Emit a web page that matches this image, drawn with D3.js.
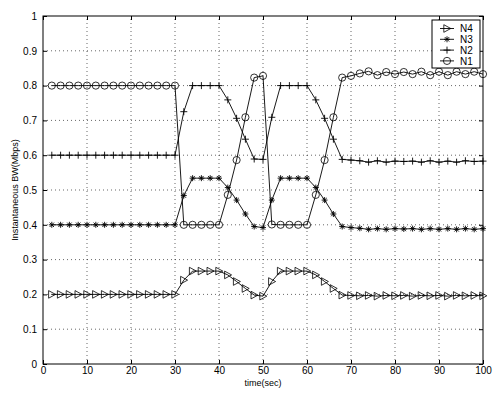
<!DOCTYPE html>
<html>
<head>
<meta charset="utf-8">
<script src="https://cdn.jsdelivr.net/npm/d3@7"></script>
<style>
  body { margin: 0; background: #fff; }
  text { font-family: "Liberation Sans", Arial, sans-serif; fill: #000; }
</style>
</head>
<body>
<div class="canva"></div>
<script>
// time axis (sec)
const time = [2,4,6,8,10,12,14,16,18,20,22,24,26,28,30,32,34,36,38,40,42,44,46,48,50,
              52,54,56,58,60,62,64,66,68,70,72,74,76,78,80,82,84,86,88,90,92,94,96,98,100];

// instantaneous bandwidth per node (Mbps)
const n1 = [0.8,0.8,0.8,0.8,0.8,0.8,0.8,0.8,0.8,0.8,0.8,0.8,0.8,0.8,0.8,
            0.4,0.4,0.4,0.4,0.4,0.486,0.586,0.709,0.823,0.828,
            0.401,0.4,0.4,0.4,0.4,0.486,0.586,0.709,0.823,0.828,
            0.835,0.841,0.830,0.839,0.833,0.839,0.833,0.840,0.830,0.840,0.830,0.840,0.833,0.840,0.833];
const n2 = [0.6,0.6,0.6,0.6,0.6,0.6,0.6,0.6,0.6,0.6,0.6,0.6,0.6,0.6,0.6,
            0.725,0.8,0.8,0.8,0.8,0.759,0.706,0.646,0.589,0.588,
            0.709,0.8,0.8,0.8,0.8,0.759,0.706,0.646,0.588,0.586,
            0.584,0.580,0.584,0.580,0.583,0.582,0.583,0.580,0.584,0.580,0.583,0.580,0.584,0.582,0.583];
const n3 = [0.4,0.4,0.4,0.4,0.4,0.4,0.4,0.4,0.4,0.4,0.4,0.4,0.4,0.4,0.4,
            0.484,0.534,0.534,0.534,0.534,0.507,0.471,0.431,0.395,0.392,
            0.471,0.534,0.534,0.534,0.534,0.507,0.471,0.431,0.395,0.392,
            0.390,0.387,0.389,0.387,0.389,0.388,0.389,0.387,0.389,0.387,0.389,0.387,0.389,0.387,0.389];
const n4 = [0.2,0.2,0.2,0.2,0.2,0.2,0.2,0.2,0.2,0.2,0.2,0.2,0.2,0.2,0.2,
            0.241,0.267,0.267,0.267,0.267,0.256,0.237,0.217,0.198,0.195,
            0.237,0.267,0.267,0.267,0.267,0.256,0.237,0.217,0.198,0.197,
            0.196,0.197,0.195,0.197,0.196,0.197,0.195,0.197,0.196,0.197,0.195,0.197,0.196,0.197,0.196];

const xTicks = [0,10,20,30,40,50,60,70,80,90,100];
const yTicks = [0,0.1,0.2,0.3,0.4,0.5,0.6,0.7,0.8,0.9,1];
const legendNames = ['N4','N3','N2','N1'];

const series = [
  {name: 'N4', values: n4, marker: 'tri'},
  {name: 'N3', values: n3, marker: 'star'},
  {name: 'N2', values: n2, marker: 'plus'},
  {name: 'N1', values: n1, marker: 'circle'}
];

const W = 501, H = 399;
const m = {left: 43, right: 18, top: 16, bottom: 35};

const svg = d3.select('.canva').append('svg')
  .attr('width', W)
  .attr('height', H);

svg.append('rect').attr('width', W).attr('height', H).attr('fill', '#fff');

const x = d3.scaleLinear().domain([0, 100]).range([m.left, W - m.right]);
const y = d3.scaleLinear().domain([0, 1]).range([H - m.bottom, m.top]);

// dotted grid
const grid = svg.append('g');
grid.selectAll('.gx').data(xTicks.slice(1, -1)).enter().append('line')
  .attr('x1', d => x(d)).attr('x2', d => x(d))
  .attr('y1', y(0)).attr('y2', y(1))
  .attr('stroke', '#000').attr('stroke-width', 0.6).attr('stroke-dasharray', '1,3');
grid.selectAll('.gy').data(yTicks.slice(1, -1)).enter().append('line')
  .attr('x1', x(0)).attr('x2', x(100))
  .attr('y1', d => y(d)).attr('y2', d => y(d))
  .attr('stroke', '#000').attr('stroke-width', 0.6).attr('stroke-dasharray', '1,3');

// axes, ticks inside like matlab
const fmtY = d => d === 0 || d === 1 ? String(d) : d.toFixed(1);
svg.append('g').attr('transform', `translate(0,${y(0)})`)
  .call(d3.axisBottom(x).tickValues(xTicks).tickSizeInner(-4).tickSizeOuter(0).tickPadding(3))
  .call(g => g.select('.domain').remove());
svg.append('g').attr('transform', `translate(0,${y(1)})`)
  .call(d3.axisTop(x).tickValues(xTicks).tickSizeInner(-4).tickSizeOuter(0).tickFormat(''))
  .call(g => g.select('.domain').remove());
svg.append('g').attr('transform', `translate(${x(0)},0)`)
  .call(d3.axisLeft(y).tickValues(yTicks).tickFormat(fmtY).tickSizeInner(-4).tickSizeOuter(0).tickPadding(6))
  .call(g => g.select('.domain').remove());
svg.append('g').attr('transform', `translate(${x(100)},0)`)
  .call(d3.axisRight(y).tickValues(yTicks).tickSizeInner(-4).tickSizeOuter(0).tickFormat(''))
  .call(g => g.select('.domain').remove());
svg.selectAll('.tick text').attr('font-size', 10).attr('font-family', '"Liberation Sans", Arial, sans-serif');

svg.append('rect')
  .attr('x', x(0)).attr('y', y(1))
  .attr('width', x(100) - x(0)).attr('height', y(0) - y(1))
  .attr('fill', 'none').attr('stroke', '#000').attr('stroke-width', 1);

// marker drawing
function drawMarker(g, type) {
  if (type === 'circle') {
    g.append('circle').attr('r', 3.6).attr('fill', 'none').attr('stroke', '#000').attr('stroke-width', 0.8);
  } else if (type === 'plus') {
    g.append('path').attr('d', 'M-3.5,0H3.5M0,-3.5V3.5').attr('stroke', '#000').attr('stroke-width', 0.9);
  } else if (type === 'star') {
    g.append('path').attr('d', 'M-3,0H3M0,-3V3M-2.2,-2.2L2.2,2.2M-2.2,2.2L2.2,-2.2')
      .attr('stroke', '#000').attr('stroke-width', 0.9);
  } else {
    g.append('path').attr('d', 'M-3.2,-3.8L3.8,0L-3.2,3.8Z')
      .attr('fill', 'none').attr('stroke', '#000').attr('stroke-width', 0.8);
  }
}

const line = d3.line().x((d, i) => x(time[i])).y(d => y(d));

series.forEach(s => {
  svg.append('path').datum(s.values)
    .attr('d', line)
    .attr('fill', 'none').attr('stroke', '#000').attr('stroke-width', 0.9);
  svg.append('g').selectAll('g').data(s.values).enter().append('g')
    .attr('transform', (d, i) => `translate(${x(time[i])},${y(d)})`)
    .each(function() { drawMarker(d3.select(this), s.marker); });
});

// legend
const lg = svg.append('g').attr('transform', 'translate(432,20)');
lg.append('rect').attr('width', 48).attr('height', 48)
  .attr('fill', '#fff').attr('stroke', '#000').attr('stroke-width', 1);
legendNames.forEach((name, i) => {
  const s = series.find(d => d.name === name);
  const row = lg.append('g').attr('transform', `translate(0,${8.5 + i * 10.8})`);
  row.append('line').attr('x1', 8).attr('x2', 22).attr('y1', 0).attr('y2', 0)
    .attr('stroke', '#000').attr('stroke-width', 0.9);
  drawMarker(row.append('g').attr('transform', 'translate(15,0)'), s.marker);
  row.append('text').attr('x', 28).attr('y', 3.6).attr('font-size', 10).text(name);
});

// axis labels
svg.append('text')
  .attr('x', (x(0) + x(100)) / 2).attr('y', 386)
  .attr('text-anchor', 'middle').attr('font-size', 9).text('time(sec)');
svg.append('text')
  .attr('transform', `translate(18,${(y(0) + y(1)) / 2}) rotate(-90)`)
  .attr('text-anchor', 'middle').attr('font-size', 9).text('Instantaneous BW(Mbps)');
</script>
</body>
</html>
